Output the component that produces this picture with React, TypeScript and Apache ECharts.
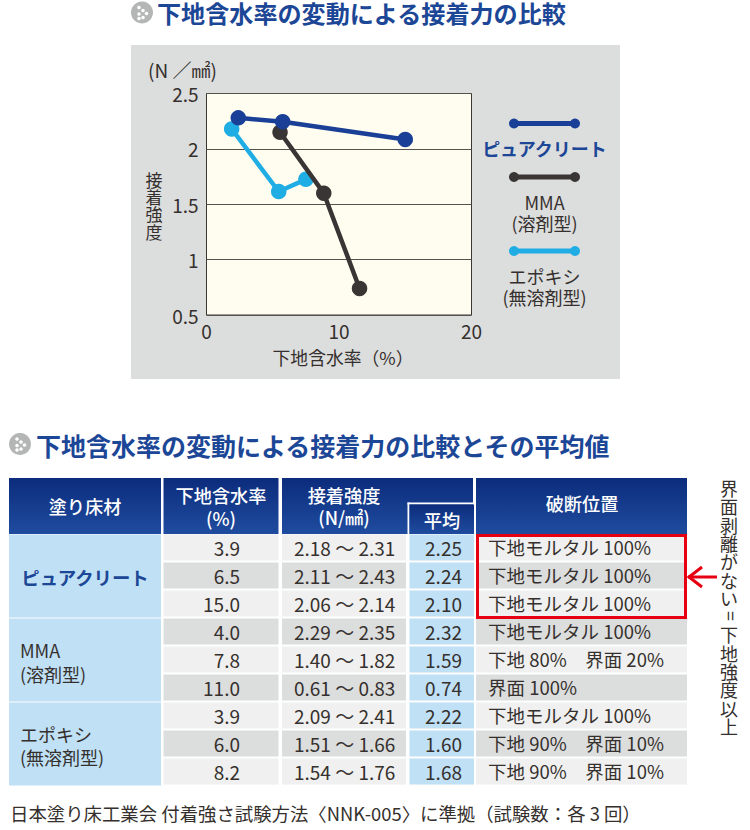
import React, { useEffect, useRef } from "react";
import * as echarts from "echarts";

const TITLE_TOP = "下地含水率の変動による接着力の比較";
const TITLE_BOTTOM = "下地含水率の変動による接着力の比較とその平均値";
const FOOTNOTE = "日本塗り床工業会 付着強さ試験方法〈NNK-005〉に準拠（試験数：各 3 回）";
const SIDE_NOTE = ["界", "面", "剥", "離", "が", "な", "い", "=", "下", "地", "強", "度", "以", "上"];
const Y_NAME = ["接", "着", "強", "度"];

const xTicks = { min: 0, max: 20, interval: 10 };
const yTicks = { min: 0.5, max: 2.5, interval: 0.5 };

const pureSeries: [number, number][] = [[2.4, 2.28], [5.75, 2.245], [15, 2.085]];
const mmaSeries: [number, number][] = [[5.55, 2.15], [8.85, 1.6], [11.55, 0.74]];
const epoxySeries: [number, number][] = [[1.9, 2.18], [5.45, 1.615], [7.5, 1.725]];

const moisture = ["3.9", "6.5", "15.0", "4.0", "7.8", "11.0", "3.9", "6.0", "8.2"];
const ranges = [
  "2.18 ～ 2.31", "2.11 ～ 2.43", "2.06 ～ 2.14",
  "2.29 ～ 2.35", "1.40 ～ 1.82", "0.61 ～ 0.83",
  "2.09 ～ 2.41", "1.51 ～ 1.66", "1.54 ～ 1.76",
];
const averages = ["2.25", "2.24", "2.10", "2.32", "1.59", "0.74", "2.22", "1.60", "1.68"];
const fractures = [
  "下地モルタル 100%", "下地モルタル 100%", "下地モルタル 100%",
  "下地モルタル 100%", "下地 80%　界面 20%", "界面 100%",
  "下地モルタル 100%", "下地 90%　界面 10%", "下地 90%　界面 10%",
];

const BLUE = "#1a3f97";
const BLACK = "#3a3535";
const CYAN = "#1fade4";
const TEXT = "#35302d";
const TITLE = "#1c4696";
const CJK = '"Noto Sans CJK JP"';
const TIGHT = '"Liberation Sans","Noto Sans CJK JP"';
const NARROW = '"Liberation Sans Narrow","Noto Sans CJK JP"';

function txt(x: number, y: number, text: string, o: any = {}) {
  const { z = 5, rotation, ...style } = o;
  return {
    type: "text", x, y, z, rotation, silent: true,
    style: { text, fill: TEXT, fontFamily: NARROW, fontSize: 18, align: "left", verticalAlign: "middle", ...style },
  };
}
function box(x: number, y: number, w: number, h: number, fill: any, z = 1) {
  return { type: "rect", z, silent: true, shape: { x, y, width: w, height: h }, style: { fill } };
}
function icon(cx: number, cy: number) {
  const dots = [[-3, -5], [1, -2], [4.5, 1], [-3, 1.5], [1, 5], [-3, 6]];
  return [
    { type: "circle", z: 2, silent: true, shape: { cx, cy, r: 11 }, style: { fill: "#b4b5b5" } },
    ...dots.map(([dx, dy]) => ({ type: "circle", z: 3, silent: true, shape: { cx: cx + dx, cy: cy + dy, r: 1.8 }, style: { fill: "#ffffff" } })),
  ];
}
function legendLine(y: number, color: string) {
  return [
    { type: "line", z: 3, silent: true, shape: { x1: 514, y1: y, x2: 575, y2: y }, style: { stroke: color, lineWidth: 5 } },
    { type: "circle", z: 3, silent: true, shape: { cx: 514, cy: y, r: 5 }, style: { fill: color } },
    { type: "circle", z: 3, silent: true, shape: { cx: 575, cy: y, r: 5 }, style: { fill: color } },
  ];
}

function buildGraphics() {
  const headGrad = () => new echarts.graphic.LinearGradient(0, 0, 0, 1, [
    { offset: 0, color: "#0c2c7c" }, { offset: 1, color: "#1f4c9f" },
  ]);
  const ROW_TOP = 534.5, ROW_H = 28;
  const cols = [[163.5, 115], [282, 124], [409.5, 64.5], [476, 211]];
  const els: any[] = [];
  els.push(box(131, 45, 489, 334, "#dcdddd", -10));
  els.push(...icon(142, 12.5), ...icon(20, 444));
  els.push(txt(157, 14, TITLE_TOP, { fontFamily: TIGHT, fontSize: 24.1, fontWeight: 700, fill: TITLE }));
  els.push(txt(36, 445, TITLE_BOTTOM, { fontFamily: CJK, fontSize: 25, fontWeight: 700, fill: TITLE }));
  els.push(txt(148, 69, "(N ／㎟)", { fontFamily: CJK, fontSize: 19 }));

  Y_NAME.forEach((ch, i) => els.push(txt(154, 179 + i * 17.4, ch, { fontFamily: CJK, fontSize: 17, align: "center" })));

  els.push(...legendLine(123.5, BLUE), ...legendLine(177, BLACK), ...legendLine(251, CYAN));
  els.push(txt(544.5, 148, "ピュアクリート", { fontFamily: CJK, fontSize: 18, fontWeight: 700, fill: TITLE, align: "center" }));
  els.push(txt(544.5, 202, "MMA", { fontFamily: CJK, fontSize: 18, align: "center" }));
  els.push(txt(544.5, 223, "(溶剤型)", { fontFamily: CJK, fontSize: 18, align: "center" }));
  els.push(txt(544.5, 276, "エポキシ", { fontFamily: CJK, fontSize: 18, align: "center" }));
  els.push(txt(544.5, 297, "(無溶剤型)", { fontFamily: CJK, fontSize: 18, align: "center" }));

  // header cells
  els.push(box(9, 478, 152, 56, headGrad()));
  els.push(box(163.5, 478, 115, 56, headGrad()));
  els.push(box(282, 478, 191, 56, headGrad()));
  els.push(box(407.5, 502.5, 2, 32, "#ffffff", 2));
  els.push(box(407.5, 502.5, 66.5, 2, "#ffffff", 2));
  els.push(box(409.5, 504.5, 64.5, 29.5, headGrad(), 2));
  els.push(box(476, 478, 211, 56, headGrad()));
  const head = { fontFamily: CJK, fontSize: 18.2, fontWeight: 500, fill: "#ffffff", align: "center" };
  els.push(txt(85, 506, "塗り床材", head));
  els.push(txt(221, 495, "下地含水率", head));
  els.push(txt(221, 518, "(%)", head));
  els.push(txt(344, 495, "接着強度", head));
  els.push(txt(344, 517, "(N/㎟)", head));
  els.push(txt(442, 520, "平均", head));
  els.push(txt(582, 503, "破断位置", head));

  // material column
  const LIGHT = "#bfe0f5";
  els.push(box(9, ROW_TOP, 152, ROW_H * 3 - 1, LIGHT));
  els.push(box(9, ROW_TOP + ROW_H * 3, 152, ROW_H * 3 - 1, LIGHT));
  els.push(box(9, ROW_TOP + ROW_H * 6, 152, ROW_H * 3 - 1, LIGHT));
  els.push(txt(85, 577, "ピュアクリート", { fontFamily: CJK, fontSize: 18.4, fontWeight: 700, fill: TITLE, align: "center" }));
  els.push(txt(20, 650, "MMA", { fontFamily: CJK, fontSize: 18 }));
  els.push(txt(20, 674, "(溶剤型)", { fontFamily: CJK, fontSize: 18 }));
  els.push(txt(20, 734, "エポキシ", { fontFamily: CJK, fontSize: 18 }));
  els.push(txt(20, 757, "(無溶剤型)", { fontFamily: CJK, fontSize: 18 }));

  moisture.forEach((_, i) => {
    const y = ROW_TOP + i * ROW_H;
    const midY = y + ROW_H / 2 - 1.5;
    const fill = i % 2 === 0 ? "#f0f0f0" : "#dcdddd";
    cols.forEach(([x, w], c) => els.push(box(x, y, w, ROW_H - 2, c === 2 ? LIGHT : fill)));
    els.push(txt(240, midY, moisture[i], { align: "right", fontSize: 19 }));
    els.push(txt(294, midY, ranges[i], { fontSize: 19 }));
    els.push(txt(462, midY, averages[i], { align: "right", fontSize: 19 }));
    els.push(txt(488, midY, fractures[i], { fontSize: 18.5 }));
  });

  // highlight box, arrow and side note
  els.push({ type: "rect", z: 4, silent: true, shape: { x: 477.5, y: 535.5, width: 208, height: 82 }, style: { fill: "none", stroke: "#e60012", lineWidth: 3 } });
  els.push({ type: "line", z: 4, silent: true, shape: { x1: 688, y1: 577, x2: 717, y2: 577 }, style: { stroke: "#e60012", lineWidth: 3 } });
  els.push({ type: "polyline", z: 4, silent: true, shape: { points: [[702, 567], [689, 577], [702, 587]] }, style: { fill: "none", stroke: "#e60012", lineWidth: 3 } });
  SIDE_NOTE.forEach((ch, i) => {
    const y = 488 + i * 18.3;
    els.push(txt(729, y, ch, { fontFamily: CJK, fontSize: 18, align: "center", rotation: ch === "=" ? Math.PI / 2 : undefined }));
  });
  els.push(txt(10, 813, FOOTNOTE, { fontFamily: CJK, fontSize: 18.4 }));
  return els;
}

const series = (name: string, data: [number, number][], color: string, z: number) => ({
  name, type: "line", data, z, symbol: "circle", symbolSize: 15.5, showSymbol: true,
  lineStyle: { color, width: 4.5 }, itemStyle: { color }, emphasis: { disabled: true },
});

export default function App() {
  const ref = useRef<HTMLDivElement>(null);
  useEffect(() => {
    document.body.style.margin = "0";
    const chart = echarts.init(ref.current!, undefined, { renderer: "svg" });
    const axisLabel = { color: TEXT, fontFamily: NARROW, fontSize: 19 };
    chart.setOption({
      animation: false,
      backgroundColor: "#ffffff",
      tooltip: { show: false },
      legend: { show: false },
      grid: { left: 206.5, top: 93.5, width: 265, height: 221.5, show: true, backgroundColor: "#fffdf0", borderColor: "#3b3633", borderWidth: 1 },
      xAxis: {
        type: "value", ...xTicks, name: "下地含水率（%）", nameLocation: "middle", nameGap: 33,
        nameTextStyle: { color: TEXT, fontFamily: CJK, fontSize: 17.8, padding: [0, 0, 0, 8] },
        axisLine: { show: false }, axisTick: { show: false }, splitLine: { show: false },
        axisLabel: { ...axisLabel, margin: 6 },
      },
      yAxis: {
        type: "value", ...yTicks,
        axisLine: { show: false }, axisTick: { show: false },
        splitLine: { show: true, lineStyle: { color: "#55524e", width: 1 } },
        axisLabel: { ...axisLabel, margin: 8 },
      },
      series: [
        series("エポキシ", epoxySeries, CYAN, 3),
        series("MMA", mmaSeries, BLACK, 4),
        series("ピュアクリート", pureSeries, BLUE, 5),
      ],
      graphic: { elements: buildGraphics() },
    });
    return () => chart.dispose();
  }, []);
  return <div ref={ref} style={{ width: 750, height: 830 }} />;
}
